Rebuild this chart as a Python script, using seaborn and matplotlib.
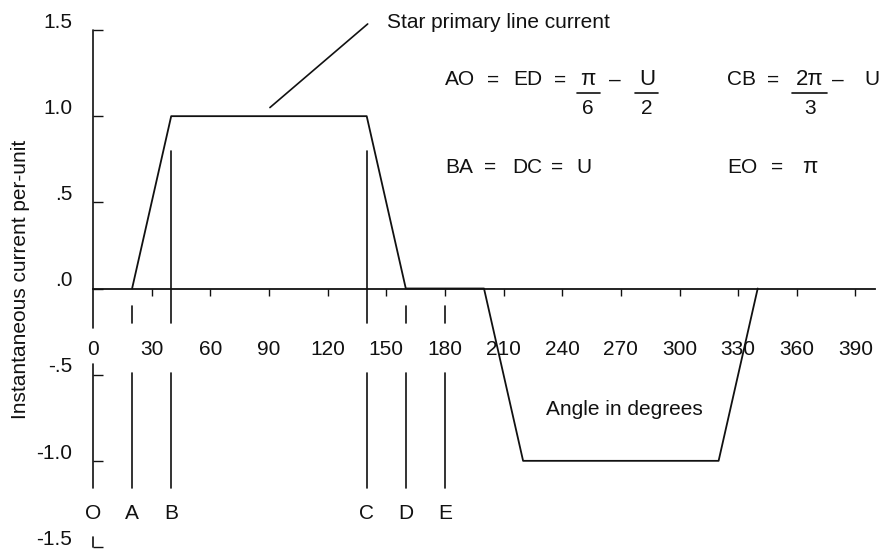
import matplotlib
matplotlib.use("Agg")
import matplotlib.pyplot as plt
import pandas as pd
import seaborn as sns

# Trapezoidal star primary line current over one cycle (per-unit vs. degrees)
angle_deg = [20, 40, 140, 160, 200, 220, 320, 340]
current_pu = [0.0, 1.0, 1.0, 0.0, 0.0, -1.0, -1.0, 0.0]

x_ticks = list(range(0, 391, 30))
x_tick_labels = [str(v) for v in x_ticks]
y_ticks = [1.5, 1.0, 0.5, 0.0, -0.5, -1.0, -1.5]
y_tick_labels = ["1.5", "1.0", ".5", ".0", "-.5", "-1.0", "-1.5"]

point_names = ["O", "A", "B", "C", "D", "E"]
point_angles = [0, 20, 40, 140, 160, 180]

sns.set_theme(style="white")
plt.rcParams["font.family"] = ["Liberation Sans", "DejaVu Sans"]
plt.rcParams["text.color"] = "black"

FS = 15
INK = "#111111"

fig = plt.figure(figsize=(8.81, 5.50), dpi=100)
ax = fig.add_axes([93 / 881, 3 / 550, 782 / 881, 517 / 550])

df = pd.DataFrame({"angle": angle_deg, "current": current_pu})
sns.lineplot(data=df, x="angle", y="current", color=INK, lw=1.3, ax=ax,
             sort=False, estimator=None, clip_on=False)

ax.set_xlim(0, 400)
ax.set_ylim(-1.5, 1.5)
ax.set_xlabel("")
ax.set_ylabel("")

# horizontal axis runs through zero, ticks hang below it
for side in ("left", "top", "right"):
    ax.spines[side].set_visible(False)
ax.spines["bottom"].set_position(("data", 0))
ax.spines["bottom"].set_color(INK)
ax.spines["bottom"].set_linewidth(1.3)
ax.set_xticks(x_ticks[1:], labels=[])
ax.tick_params(axis="x", direction="out", length=5, width=1, color=INK,
               bottom=True)
for v, lab in zip(x_ticks, x_tick_labels):
    ax.text(v, -0.355, lab, ha="center", va="center", fontsize=FS, color=INK)

# vertical axis: ticks point inward, labels sit a little above each tick
ax.set_yticks(y_ticks, labels=[])
ax.tick_params(axis="y", direction="in", length=7, width=1, color=INK, left=True)
for v, lab in zip(y_ticks, y_tick_labels):
    ax.text(-10.5, v + 0.045, lab, ha="right", va="center", fontsize=FS, color=INK)

# broken vertical axis line (gaps leave room for labels)
for top, bot in [(1.5, -0.23), (-0.44, -1.16), (-1.44, -1.5)]:
    ax.plot([0, 0], [top, bot], color=INK, lw=1.2, clip_on=False)

# marker lines for points A..E
for name, ang in zip(point_names, point_angles):
    if name == "O":
        pass
    elif name in ("B", "C"):
        ax.plot([ang, ang], [0.8, -0.2], color=INK, lw=1.2)
        ax.plot([ang, ang], [-0.49, -1.16], color=INK, lw=1.2)
    else:
        ax.plot([ang, ang], [-0.1, -0.2], color=INK, lw=1.2)
        ax.plot([ang, ang], [-0.49, -1.16], color=INK, lw=1.2)
    ax.text(ang, -1.305, name, ha="center", va="center", fontsize=FS, color=INK)

# waveform caption with leader line
ax.plot([90.5, 140.5], [1.05, 1.535], color=INK, lw=1.2, clip_on=False)
ax.text(150.5, 1.545, "Star primary line current", ha="left", va="center",
        fontsize=FS, color=INK)

ax.text(272, -0.705, "Angle in degrees", ha="center", va="center",
        fontsize=FS, color=INK)

fig.text(21 / 881, 1 - 279 / 550, "Instantaneous current per-unit",
         rotation=90, ha="center", va="center", fontsize=FS, color=INK)


def put(x, y, s, ha="left", size=FS):
    ax.text(x, y, s, ha=ha, va="center", fontsize=size, color=INK)


def frac(xc, num, den, x1, x2, y_num=1.21, y_bar=1.134, y_den=1.047):
    put(xc, y_num, num, ha="center", size=FS + 1)
    ax.plot([x1, x2], [y_bar, y_bar], color=INK, lw=1.2)
    put(xc, y_den, den, ha="center")


r1, r2 = 1.21, 0.705
# AO = ED = pi/6 - U/2
put(180, r1, "AO")
put(204.6, r1, "=", ha="center")
put(214.8, r1, "ED")
put(238.9, r1, "=", ha="center")
frac(253, "π", "6", 247.6, 259.3)
put(267, r1, "–", ha="center")
frac(283.4, "U", "2", 277.2, 289)
# CB = 2pi/3 - U
put(324.3, r1, "CB")
put(347.8, r1, "=", ha="center")
frac(366.6, "2π", "3", 357.5, 375.4)
put(381, r1, "–", ha="center")
put(398.5, r1, "U", ha="center")
# BA = DC = U
put(180, r2, "BA")
put(203, r2, "=", ha="center")
put(214.3, r2, "DC")
put(237.3, r2, "=", ha="center")
put(251.2, r2, "U", ha="center")
# EO = pi
put(324.3, r2, "EO")
put(350, r2, "=", ha="center")
put(366.8, r2, "π", ha="center", size=FS + 1)

fig.savefig("out.png", dpi=100)
